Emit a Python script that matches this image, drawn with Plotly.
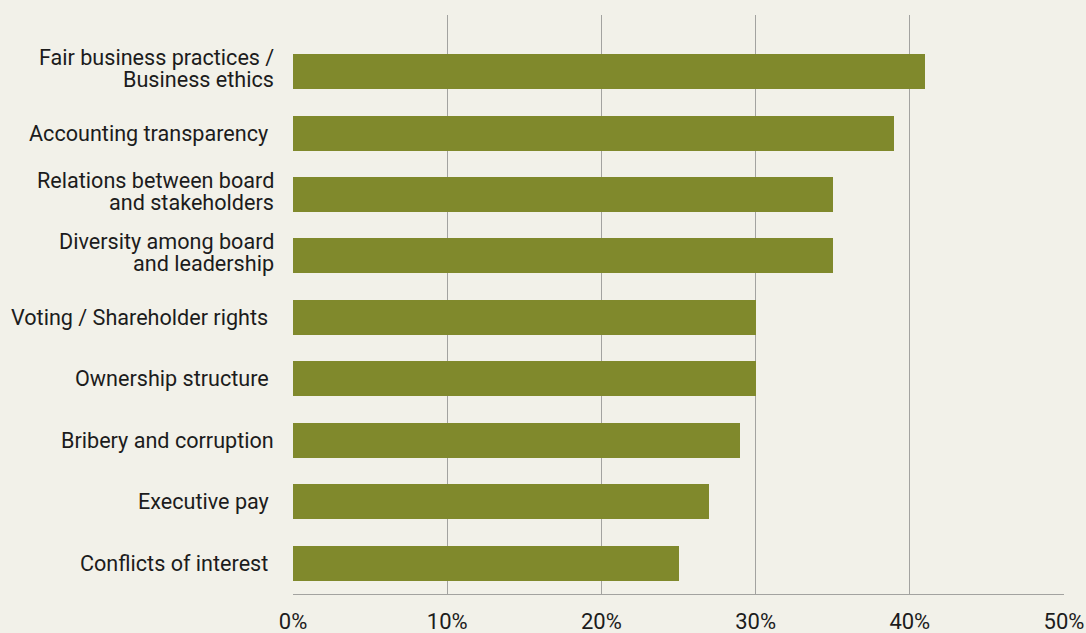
import plotly.graph_objects as go

# Governance issues, top to bottom, with the share of respondents citing each
categories = [
    "Fair business practices /<br>Business ethics",
    "Accounting transparency\u00a0",
    "Relations between board<br>and stakeholders",
    "Diversity among board<br>and leadership",
    "Voting / Shareholder rights\u00a0",
    "Ownership structure\u00a0",
    "Bribery and corruption",
    "Executive pay\u00a0",
    "Conflicts of interest\u00a0",
]
values = [41, 39, 35, 35, 30, 30, 29, 27, 25]
x_ticks = [0, 10, 20, 30, 40, 50]
x_tick_labels = ["0%", "10%", "20%", "30%", "40%", "50%"]

BG = "#f2f1e9"
BAR = "#80892c"
GRID = "#a3a3a0"
TEXT = "#1c1c1c"
FONT = "Roboto"
LABEL_SIZE = 21.6
LINE_GAP = 22  # spacing between the lines of a wrapped category label

positions = list(range(len(categories)))

fig = go.Figure(
    go.Bar(
        x=values,
        y=positions,
        orientation="h",
        marker=dict(color=BAR, line=dict(width=0)),
        width=0.57,
        hoverinfo="skip",
    )
)

# Category labels: wrapped labels are set line by line with a tight leading
annotations = []
for pos, label in zip(positions, categories):
    lines = label.split("<br>")
    n = len(lines)
    lift = 3 if n > 1 else 0
    for k, line in enumerate(lines):
        offset = ((n - 1) / 2 - k) * LINE_GAP + lift
        annotations.append(
            dict(
                text=line,
                xref="paper",
                yref="y",
                x=0,
                y=pos,
                xanchor="right",
                yanchor="middle",
                xshift=-17,
                yshift=offset,
                showarrow=False,
                font=dict(family=FONT, size=LABEL_SIZE, color=TEXT),
            )
        )

fig.update_layout(
    width=1086,
    height=633,
    margin=dict(l=293, r=22, t=15, b=39),
    paper_bgcolor=BG,
    plot_bgcolor=BG,
    font=dict(family=FONT, size=LABEL_SIZE, color=TEXT),
    showlegend=False,
    bargap=0,
    annotations=annotations,
)

fig.update_xaxes(
    range=[0, 50],
    tickvals=x_ticks,
    ticktext=x_tick_labels,
    showgrid=True,
    gridcolor=GRID,
    gridwidth=1.2,
    zeroline=False,
    showline=True,
    linecolor=GRID,
    linewidth=1.2,
    ticks="",
    ticklabelstandoff=7,
    automargin=False,
    tickfont=dict(family=FONT, size=22, color=TEXT),
)

fig.update_yaxes(
    range=[8.5, -0.92],
    tickvals=positions,
    showticklabels=False,
    showgrid=False,
    zeroline=False,
    showline=False,
    ticks="",
    automargin=False,
)

fig.write_html("out.html")
